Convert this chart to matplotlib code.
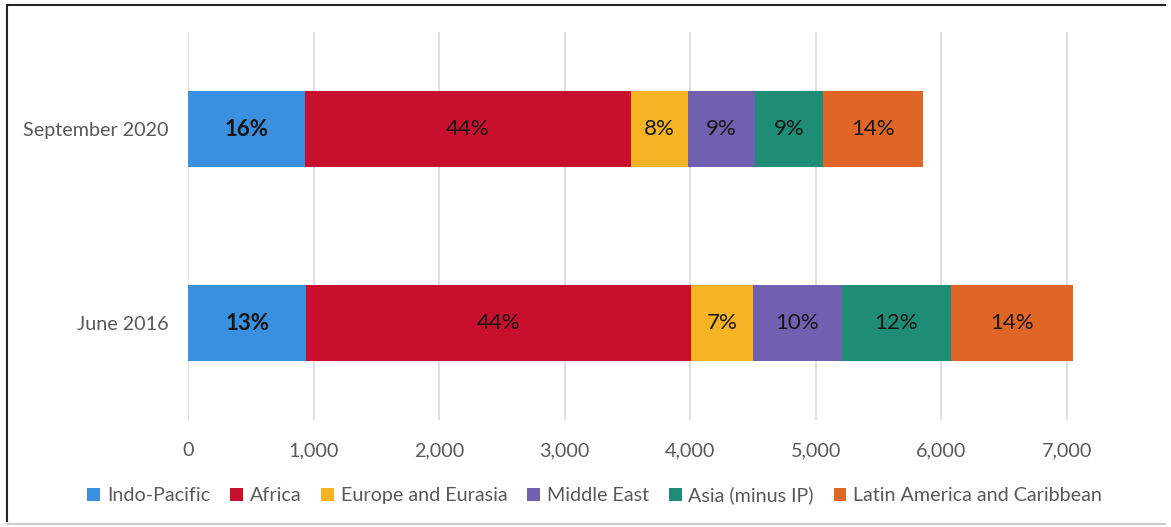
import matplotlib

matplotlib.use("Agg")
import matplotlib.pyplot as plt
from matplotlib.lines import Line2D
from matplotlib.patches import Patch

plt.rcParams["font.family"] = ["Lato", "DejaVu Sans"]

periods = ["June 2016", "September 2020"]
regions = [
    "Indo-Pacific",
    "Africa",
    "Europe and Eurasia",
    "Middle East",
    "Asia (minus IP)",
    "Latin America and Caribbean",
]
# values per region, ordered as periods
indo_pacific = [942, 934]
africa = [3067, 2594]
europe_eurasia = [492, 452]
middle_east = [705, 537]
asia_minus_ip = [873, 537]
latin_america = [971, 804]
shares = {
    "Indo-Pacific": ["13%", "16%"],
    "Africa": ["44%", "44%"],
    "Europe and Eurasia": ["7%", "8%"],
    "Middle East": ["10%", "9%"],
    "Asia (minus IP)": ["12%", "9%"],
    "Latin America and Caribbean": ["14%", "14%"],
}
colors = ["#3a8fde", "#c8102e", "#f6b323", "#7160b0", "#1f8c78", "#e06628"]


def main() -> None:
    series = [indo_pacific, africa, europe_eurasia, middle_east, asia_minus_ip, latin_america]
    fig = plt.figure(figsize=(11.71, 5.27), dpi=100)
    ax = fig.add_axes([0.1605, 0.203, 0.757, 0.736])

    left = [0.0] * len(periods)
    ypos = list(range(len(periods)))
    for name, vals, col in zip(regions, series, colors):
        ax.barh(ypos, vals, left=left, height=0.395, color=col, zorder=2, label=name)
        for i, v in enumerate(vals):
            ax.text(
                left[i] + v / 2,
                ypos[i],
                shares[name][i],
                ha="center",
                va="center",
                fontsize=16,
                color="#151515",
                fontweight="bold" if name == "Indo-Pacific" else "normal",
                zorder=3,
            )
        left = [a + b for a, b in zip(left, vals)]

    ax.set_xlim(0, 7060)
    ax.set_ylim(-0.5, 1.5)
    ax.set_xticks(range(0, 7001, 1000))
    ax.set_xticklabels([f"{x:,}" for x in range(0, 7001, 1000)])
    ax.set_yticks(ypos)
    ax.set_yticklabels(periods)
    ax.grid(axis="x", color="#d9d9d9", linewidth=1.2, zorder=0)
    for s in ax.spines.values():
        s.set_visible(False)
    ax.tick_params(axis="both", length=0, labelsize=14.2, labelcolor="#595959")
    ax.tick_params(axis="x", pad=16)
    ax.tick_params(axis="y", pad=14)

    handles = [Patch(facecolor=c, edgecolor="none") for c in colors]
    fig.legend(
        handles,
        regions,
        loc="center",
        bbox_to_anchor=(0.508, 0.06),
        ncol=6,
        frameon=False,
        fontsize=14.2,
        labelcolor="#595959",
        handlelength=0.65,
        handleheight=0.65,
        handletextpad=0.35,
        columnspacing=1.0,
    )

    # screenshot frame
    fig.add_artist(Line2D([0.006, 0.006], [0.012, 0.99], color="#222222", lw=1.5))
    fig.add_artist(Line2D([0.006, 0.995], [0.99, 0.99], color="#222222", lw=1.5))
    fig.add_artist(Line2D([0.006, 0.995], [0.005, 0.005], color="#cccccc", lw=1.5))

    fig.savefig("out.png", dpi=100)


if __name__ == "__main__":
    main()
